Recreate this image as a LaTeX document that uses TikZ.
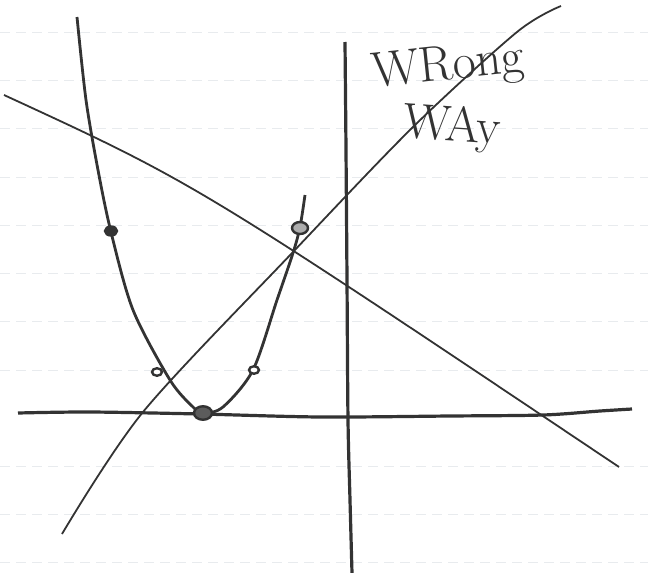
\documentclass[tikz,border=0pt]{standalone}
\usepackage{tikz}
\usetikzlibrary{calc}
\definecolor{ink}{HTML}{333333}
\definecolor{rule}{HTML}{E8EBEE}
\newcommand{\blob}[4]{\draw[ink,line width=1.2pt,fill=#4] (#1,#2) ellipse (#3 and #3*0.75);}

\begin{document}
\begin{tikzpicture}[x=0.5pt,y=-0.5pt]
\useasboundingbox (0,0) rectangle (648,573);
\foreach \y in {32,80,128,177,225,273,321,370,466,514,562}
  \draw[rule,line width=.4pt,dash pattern=on 5pt off 3pt] (0,\y)--(648,\y);
\draw[ink,line width=1.6pt] plot[smooth] coordinates {(18,413) (90,412) (200,414) (320,417) (450,416) (543,415) (600,411) (632,409)};
\draw[ink,line width=1.6pt] plot[smooth] coordinates {(345,42) (346,150) (347,280) (348,420) (350,500) (352,573)};
\draw[ink,line width=.9pt] (4,95) .. controls (195,183) .. (619,467);
\draw[ink,line width=.9pt] plot[smooth] coordinates {(62,534) (143,412) (293,252) (413,127) (517,32) (561,6)};
\draw[ink,line width=1.4pt] plot[smooth] coordinates {(77,17) (86,100) (98,170) (111,232) (133,310) (170,380) (193,407) (203,413) (223,407) (253,370) (277,300) (293,253) (300,227) (305,195)};
\blob{111}{231}{6}{ink}
\blob{157}{372}{5}{white}
\blob{203}{413}{9}{ink!80}
\blob{254}{370}{5}{white}
\blob{300}{228}{8}{ink!40}
\node[ink,font=\fontsize{25}{25}\selectfont,rotate=6] (wrong) at (448,68) {WRong};
\node[ink,font=\fontsize{25}{25}\selectfont,rotate=-4] (way) at (452,128) {WAy};
\end{tikzpicture}
\end{document}
